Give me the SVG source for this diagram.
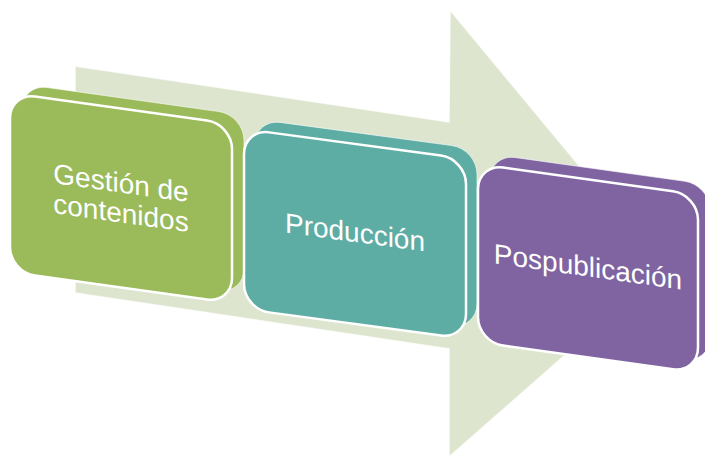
<svg xmlns="http://www.w3.org/2000/svg" width="705" height="457" viewBox="0 0 705 457">
  <style>
    .arrow { fill: #DDE5CF; stroke: #FFFFFF; stroke-width: 1.5; stroke-opacity: 0.8; }
    .back { stroke: #FFFFFF; stroke-width: 1; stroke-opacity: 0.6; vector-effect: non-scaling-stroke; }
    .front { stroke: #FFFFFF; stroke-width: 2.5; vector-effect: non-scaling-stroke; }
    .green { fill: #9BBA59; }
    .teal { fill: #5DADA5; }
    .purple { fill: #8064A2; }
    .label { fill: #FFFFFF; font-family: "Liberation Sans", Arial, sans-serif; font-size: 28px; text-anchor: middle; }
  </style>
  <rect width="705" height="457" fill="#FFFFFF"/>
  <g id="background-arrow">
    <polygon class="arrow" points="75,66 449,122 450,10 664,268 449,457 449,349 75,293"/>
  </g>
  <g id="node-gestion">
    <rect class="back green" x="0" y="0" width="222" height="179" rx="25" ry="25" transform="matrix(1 0.14 0 1 22 84)"/>
    <g transform="matrix(1 0.14 0 1 10 93)">
      <rect class="front green" x="0" y="0" width="222" height="179" rx="25" ry="25"/>
      <text class="label" x="111" y="84">Gestión de</text>
      <text class="label" x="111" y="114">contenidos</text>
    </g>
  </g>
  <g id="node-produccion">
    <rect class="back teal" x="0" y="0" width="222" height="180" rx="25" ry="25" transform="matrix(1 0.135 0 1 255 119)"/>
    <g transform="matrix(1 0.135 0 1 244 129)">
      <rect class="front teal" x="0" y="0" width="222" height="180" rx="25" ry="25"/>
      <text class="label" x="111" y="98">Producción</text>
    </g>
  </g>
  <g id="node-pospublicacion">
    <rect class="back purple" x="0" y="0" width="220" height="178" rx="25" ry="25" transform="matrix(1 0.14 0 1 490 154)"/>
    <g transform="matrix(1 0.14 0 1 478 164)">
      <rect class="front purple" x="0" y="0" width="220" height="178" rx="25" ry="25"/>
      <text class="label" x="110" y="97">Pospublicación</text>
    </g>
  </g>
</svg>
